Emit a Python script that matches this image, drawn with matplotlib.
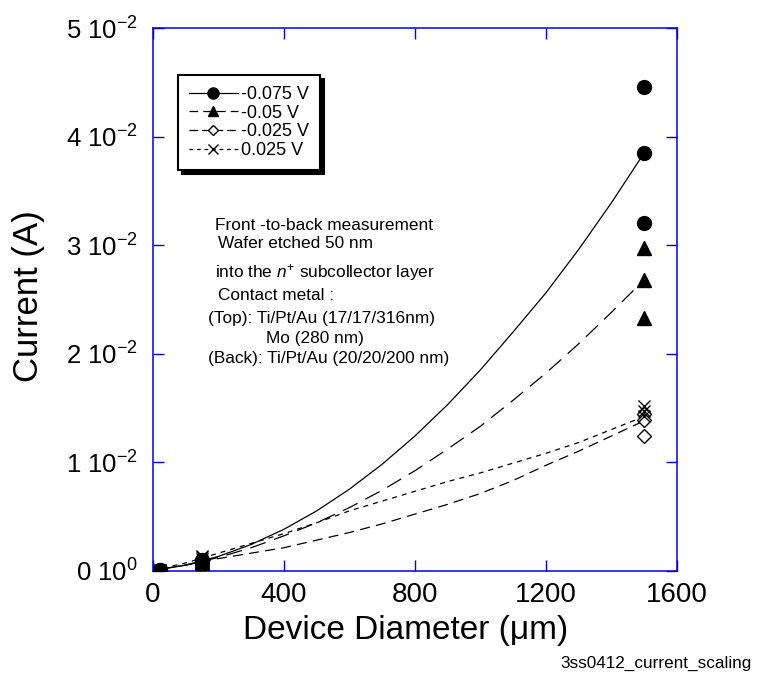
import matplotlib
matplotlib.use("Agg")
import matplotlib.pyplot as plt
from matplotlib.lines import Line2D

plt.rcParams['font.family'] = ['Liberation Sans', 'DejaVu Sans']
plt.rcParams['mathtext.fontset'] = 'custom'
plt.rcParams['mathtext.rm'] = 'Liberation Sans'
plt.rcParams['mathtext.it'] = 'Liberation Sans:italic'

# ---- data ----
labels = ['-0.075 V', '-0.05 V', '-0.025 V', '0.025 V']
diam_pts = [20, 150, 1500]
# measured currents (A) at each diameter, several devices
m075 = {20: [0.00002, 0.00001], 150: [0.0010, 0.0009, 0.0008], 1500: [0.0446, 0.0385, 0.0320]}
m050 = {20: [0.00002, 0.00001], 150: [0.0009, 0.0008, 0.0007], 1500: [0.0297, 0.0268, 0.0233]}
m025n = {20: [0.00002, 0.00001], 150: [0.0007, 0.0005, 0.0004], 1500: [0.0144, 0.0139, 0.0124]}
m025p = {20: [0.00002, 0.00001], 150: [0.0013, 0.0012, 0.0011], 1500: [0.0152, 0.0147, 0.0142]}

# fitted curves
fit_x = [0, 100, 200, 300, 400, 500, 600, 700, 800, 900, 1000, 1100, 1200, 1300, 1400, 1500]
fit075 = [0, 0.0005, 0.0013, 0.0024, 0.0038, 0.0055, 0.0075, 0.0098, 0.0124, 0.0153, 0.0185,
          0.0220, 0.0256, 0.0296, 0.0339, 0.0385]
fit050 = [0, 0.0005, 0.0012, 0.0021, 0.0032, 0.0044, 0.0058, 0.0074, 0.0092, 0.0112, 0.0133,
          0.0157, 0.0182, 0.0209, 0.0238, 0.0268]
fit025n = [0, 0.0005, 0.0011, 0.0016, 0.0021, 0.0028, 0.0035, 0.0043, 0.0052, 0.0061, 0.0071,
           0.0083, 0.0097, 0.0110, 0.0124, 0.0138]
fit025p = [0, 0.0007, 0.0016, 0.0025, 0.0034, 0.0044, 0.0055, 0.0064, 0.0073, 0.0082, 0.0090,
           0.0099, 0.0108, 0.0118, 0.0130, 0.0142]

xticks = [0, 400, 800, 1200, 1600]
yticks = [0, 0.01, 0.02, 0.03, 0.04, 0.05]
ytick_labels = ['0 10$^{0}$', '1 10$^{-2}$', '2 10$^{-2}$', '3 10$^{-2}$', '4 10$^{-2}$', '5 10$^{-2}$']

# ---- figure ----
W, H = 759, 674
fig = plt.figure(figsize=(W / 100, H / 100), dpi=100)
ax = fig.add_axes([153 / W, 1 - 570.5 / H, (677 - 153) / W, (570.5 - 28) / H])

blue = '#0000ee'
styles = [
    dict(data=m075, fit=fit075, marker='o', mfc='black', ms=10, dashes=None, ldash=None, z=5),
    dict(data=m050, fit=fit050, marker='^', mfc='black', ms=9.5, dashes=(13, 7), ldash=(7, 4), z=4),
    dict(data=m025n, fit=fit025n, marker='D', mfc='white', ms=7, dashes=(8, 5), ldash=(7, 3), z=2),
    dict(data=m025p, fit=fit025p, marker='x', mfc='black', ms=9, dashes=(4, 4), ldash=(3, 3), z=3),
]

handles = []
for lab, st in zip(labels, styles):
    kw = dict(color='black', lw=0.9, zorder=1.5)
    if st['dashes'] is not None:
        ax.plot(fit_x, st['fit'], ls='--', dashes=st['dashes'], **kw)
    else:
        ax.plot(fit_x, st['fit'], ls='-', **kw)
    for d in diam_pts:
        vals = st['data'][d]
        ax.plot([d] * len(vals), vals, ls='none', marker=st['marker'], ms=st['ms'],
                mfc=st['mfc'], mec='black', mew=1.0, zorder=st['z'])
    h = Line2D([], [], color='black', lw=0.9, marker=st['marker'], ms=st['ms'] * 0.8,
               mfc=st['mfc'], mec='black', ls='-' if st['ldash'] is None else '--')
    if st['ldash'] is not None:
        h.set_dashes(st['ldash'])
    handles.append(h)

ax.set_xlim(0, 1600)
ax.set_ylim(0, 0.05)
ax.set_xticks(xticks)
ax.set_xticklabels([str(v) for v in xticks])
ax.set_yticks(yticks)
ax.set_yticklabels(ytick_labels)
ax.tick_params(direction='in', length=8, width=1, color=blue,
               top=True, right=True)
ax.tick_params(axis='x', labelsize=20, pad=8)
ax.tick_params(axis='y', labelsize=18.5, pad=11)
for s in ax.spines.values():
    s.set_color(blue)
    s.set_linewidth(1.1)

fig.text(406 / W, 1 - 639 / H, 'Device Diameter (\u03bcm)', fontsize=24,
         ha='center', va='baseline')
fig.text(29 / W, 1 - 296 / H, 'Current (A)', fontsize=25, rotation=90,
         ha='center', va='center')

leg = ax.legend(handles, labels, loc='upper left',
                bbox_to_anchor=(178 / W, 1 - 75 / H), bbox_transform=fig.transFigure,
                borderaxespad=0, frameon=True, fancybox=False,
                shadow={'color': 'black', 'alpha': 1, 'ox': 3, 'oy': -3},
                edgecolor='black', fontsize=13, handlelength=2.7, numpoints=1,
                borderpad=0.6, labelspacing=0.1, handletextpad=0.2)
leg.get_frame().set_linewidth(1.5)
leg.set_zorder(10)

txt = dict(fontsize=12.4, va='center', ha='left')
ax.text(189, 0.0318, 'Front -to-back measurement', **txt)
ax.text(198, 0.0301, 'Wafer etched 50 nm', **txt)
ax.text(189, 0.02751, 'into the $n^{+}$ subcollector layer', **txt)
ax.text(198, 0.02535, 'Contact metal :', **txt)
ax.text(168, 0.02323, '(Top): Ti/Pt/Au (17/17/316nm)', **txt)
ax.text(345, 0.02138, 'Mo (280 nm)', **txt)
ax.text(168, 0.01955, '(Back): Ti/Pt/Au (20/20/200 nm)', **txt)

fig.text(560 / W, 1 - 663 / H, '3ss0412_current_scaling', fontsize=12.3,
         va='center', ha='left')

fig.savefig('out.png', dpi=100)
